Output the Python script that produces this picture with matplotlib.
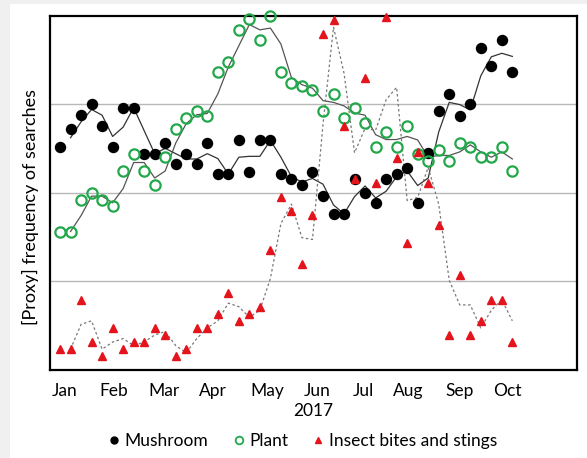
import matplotlib
matplotlib.use("Agg")
import matplotlib.pyplot as plt
import numpy as np
from matplotlib.lines import Line2D
from matplotlib.patches import Rectangle

# ---- data (weekly, 2017) ----
weeks = list(range(44))
mushroom = [2.52, 2.72, 2.88, 3.00, 2.75, 2.52, 2.96, 2.96, 2.44, 2.44,
            2.56, 2.32, 2.44, 2.32, 2.56, 2.21, 2.21, 2.59, 2.23, 2.59,
            2.59, 2.21, 2.15, 2.09, 2.23, 1.96, 1.76, 1.76, 2.15, 2.00,
            1.88, 2.15, 2.21, 2.28, 1.88, 2.45, 2.92, 3.12, 2.87, 3.00,
            3.64, 3.43, 3.72, 3.36]
plant = [1.56, 1.56, 1.92, 2.00, 1.92, 1.85, 2.24, 2.44, 2.24, 2.09,
         2.40, 2.72, 2.84, 2.92, 2.87, 3.36, 3.48, 3.84, 3.96, 3.72,
         4.00, 3.36, 3.24, 3.20, 3.16, 2.92, 3.12, 2.84, 2.96, 2.79,
         2.52, 2.68, 2.52, 2.75, 2.44, 2.36, 2.48, 2.36, 2.56, 2.52,
         2.40, 2.40, 2.52, 2.24]
insect = [0.23, 0.23, 0.79, 0.31, 0.15, 0.47, 0.23, 0.31, 0.31, 0.47,
          0.39, 0.15, 0.23, 0.47, 0.47, 0.63, 0.87, 0.55, 0.63, 0.71,
          1.35, 1.95, 1.79, 1.19, 1.75, 3.79, 3.95, 2.75, 2.15, 3.30,
          2.11, 3.99, 2.39, 1.43, 2.46, 2.11, 1.63, 0.39, 1.07, 0.39,
          0.55, 0.79, 0.79, 0.31]
month_labels = ["Jan", "Feb", "Mar", "Apr", "May", "Jun", "Jul", "Aug", "Sep", "Oct"]
month_pos = [0.48, 5.14, 9.89, 14.53, 19.67, 24.42, 28.8, 33.1, 37.98, 42.57]

GREEN = "#22a84a"
RED = "#e3141b"
FS = 12.5

plt.rcParams['font.family'] = ['Lato', 'DejaVu Sans']

W, H = 587, 458
fig = plt.figure(figsize=(W / 100, H / 100), dpi=100)
fig.patch.set_facecolor("white")
# light screenshot strips
fig.patches.append(Rectangle((0, 0), 10 / W, 1, transform=fig.transFigure,
                             facecolor="#f0f0f0", edgecolor="none", zorder=0))
fig.patches.append(Rectangle((0, 1 - 4 / H), 1, 4 / H, transform=fig.transFigure,
                             facecolor="#f0f0f0", edgecolor="none", zorder=0))

L, R, T, B = 49.5, 576.5, 15.7, 369.5
ax = fig.add_axes([L / W, 1 - B / H, (R - L) / W, (B - T) / H])


def mov2(vals):
    v = np.asarray(vals, dtype=float)
    return (v[1:] + v[:-1]) / 2.0


x = np.asarray(weeks, dtype=float)
ax.plot(x[1:], mov2(mushroom), color="#333333", lw=0.9, zorder=2)
ax.plot(x[1:], mov2(plant), color="#555555", lw=0.9, zorder=2)
ax.plot(x[1:], mov2(insect), color="#777777", lw=0.9, ls=(0, (2, 2)), zorder=2)

ax.plot(x, mushroom, 'o', color="black", ms=7.2, mec="black", zorder=3, clip_on=False)
ax.plot(x, plant, 'o', mfc="none", mec=GREEN, mew=1.6, ms=7.4, zorder=3, clip_on=False)
ax.plot(x, insect, '^', color=RED, ms=6.2, mec=RED, zorder=4, clip_on=False)

ax.set_xlim(-1.0, 49.1)
ax.set_ylim(0, 4)
ax.set_yticks([1, 2, 3])
ax.yaxis.grid(True, color="#b8b8b8", lw=1.0)
ax.set_axisbelow(True)
ax.tick_params(axis='y', left=False, labelleft=False)
ax.set_xticks(month_pos)
ax.set_xticklabels(month_labels, fontsize=FS)
ax.tick_params(axis='x', length=0, pad=10)
for s in ax.spines.values():
    s.set_color("black")
    s.set_linewidth(1.6)
    s.set_zorder(2.5)

fig.text(313 / W, 1 - 411 / H, "2017", ha="center", va="center", fontsize=FS)
fig.text(30 / W, 1 - 207 / H, "[Proxy] frequency of searches", rotation=90,
         ha="center", va="center", fontsize=13)

handles = [
    Line2D([], [], ls="none", marker='o', color="black", ms=5),
    Line2D([], [], ls="none", marker='o', mfc="none", mec=GREEN, mew=1.3, ms=5.5),
    Line2D([], [], ls="none", marker='^', color=RED, ms=5),
]
fig.legend(handles, ["Mushroom", "Plant", "Insect bites and stings"],
           loc="center", bbox_to_anchor=(303 / W, 1 - 441 / H), ncol=3,
           frameon=False, fontsize=FS, handlelength=0.6, handletextpad=0.3,
           columnspacing=1.45)

fig.savefig("out.png", dpi=100)
